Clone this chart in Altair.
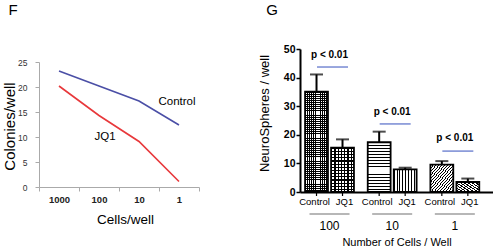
import altair as alt
import pandas as pd

# ---------------- Panel F data ----------------
cells = ["1000", "100", "10", "1"]
control_colonies = [23.2, 20.2, 17.2, 12.4]
jq1_colonies = [20.2, 14.3, 9.1, 1.1]
series_names = ["Control", "JQ1"]
series_colors = ["#4b4fa6", "#e8383b"]
control_label_cell = "1"
control_label_value = 17.0
jq1_label_cell = "100"
jq1_label_value = 10.0

# ---------------- Panel G data ----------------
groups = ["100", "10", "1"]
conditions = ["Control", "JQ1"]
sphere_means = [35.1, 15.5, 17.4, 7.9, 9.6, 3.5]
sphere_err_top = [41.1, 18.4, 21.1, 8.5, 10.8, 4.7]
p_texts = ["p < 0.01", "p < 0.01", "p < 0.01"]
p_text_y = [47.9, 28.0, 18.9]
p_line_y = [43.7, 23.8, 14.3]

SANS = "Liberation Sans"

# shared panel frame
H = 143
F_BOTTOM, F_TOP = 138, 13   # pixel range of panel F's y scale inside the frame

# ================= Panel F =================
W1 = 160
dfF = pd.DataFrame({
    "cells": cells * 2,
    "value": control_colonies + jq1_colonies,
    "series": [series_names[0]] * 4 + [series_names[1]] * 4,
})

xF = alt.X("cells:N", sort=cells,
           scale=alt.Scale(paddingInner=0, paddingOuter=0),
           axis=alt.Axis(title="Cells/well", labelAngle=0, tickBand="extent", offset=F_BOTTOM - H,
                         domainColor="#aaaaaa", tickColor="#aaaaaa", tickSize=4,
                         labelFont=SANS, labelFontSize=9.5, labelFontWeight="bold",
                         labelColor="#222222", labelPadding=3,
                         titleFont=SANS, titleFontSize=13.5, titleFontWeight="normal",
                         titleColor="#000000", titlePadding=9, titleX=86))


def yF(field):
    return alt.Y(field, scale=alt.Scale(domain=[0, 25], range=[F_BOTTOM, F_TOP]),
                 axis=alt.Axis(title="Colonies/well", values=[0, 5, 10, 15, 20, 25], grid=False,
                               domainColor="#aaaaaa", tickColor="#aaaaaa", tickSize=4,
                               labelFont=SANS, labelFontSize=8.5, labelColor="#333333",
                               labelPadding=8,
                               titleFont=SANS, titleFontSize=15, titleFontWeight="normal",
                               titleColor="#000000", titleX=-30, titleY=77,
                               titleBaseline="middle"))


linesF = alt.Chart(dfF).mark_line(strokeWidth=1.6).encode(
    x=xF, y=yF("value:Q"),
    color=alt.Color("series:N", scale=alt.Scale(domain=series_names, range=series_colors), legend=None),
)
ctrl_lab = alt.Chart(pd.DataFrame({"cells": [control_label_cell], "value": [control_label_value],
                                   "t": [series_names[0]]})).mark_text(
    font=SANS, fontSize=11.5, dx=-2, baseline="middle").encode(x=xF, y=yF("value:Q"), text="t:N")
jq1_lab = alt.Chart(pd.DataFrame({"cells": [jq1_label_cell], "value": [jq1_label_value],
                                  "t": [series_names[1]]})).mark_text(
    font=SANS, fontSize=11.5, dx=6, baseline="middle").encode(x=xF, y=yF("value:Q"), text="t:N")
letterF = alt.Chart(pd.DataFrame({"t": ["F"]})).mark_text(
    font=SANS, fontSize=15, baseline="middle", align="center").encode(
    x=alt.value(-26), y=alt.value(-39), text="t:N")

panelF = alt.layer(linesF, ctrl_lab, jq1_lab, letterF).properties(width=W1, height=H)

# ================= Panel G =================
W2 = 193
dfG = pd.DataFrame({
    "group": [g for g in groups for _ in conditions],
    "cond": conditions * 3,
    "mean": sphere_means,
    "err": sphere_err_top,
})
dfGroups = pd.DataFrame({"group": groups, "ptext": p_texts, "ty": p_text_y, "ly": p_line_y})

xG = alt.X("group:N", sort=groups,
           scale=alt.Scale(paddingInner=0.22, paddingOuter=0.15, align=0.27),
           axis=alt.Axis(title="Number of Cells / Well", labelAngle=0, ticks=False, tickSize=0,
                         domainColor="#000000", domainWidth=2,
                         labelFont=SANS, labelFontSize=12, labelColor="#000000", labelPadding=28,
                         titleFont=SANS, titleFontSize=11, titleFontWeight="normal",
                         titleColor="#000000", titlePadding=5))
xoG = alt.XOffset("cond:N", sort=conditions, scale=alt.Scale(paddingInner=0.12, paddingOuter=0))


def yG(field):
    return alt.Y(field, scale=alt.Scale(domain=[0, 50]),
                 axis=alt.Axis(title="NeuroSpheres / well", values=[0, 10, 20, 30, 40, 50], grid=False,
                               domainColor="#000000", domainWidth=2, tickColor="#000000",
                               tickWidth=1.5, tickSize=4,
                               labelFont=SANS, labelFontSize=10.5, labelColor="#000000",
                               labelFontWeight="bold", labelPadding=1,
                               titleFont=SANS, titleFontSize=13, titleFontWeight="normal",
                               titleColor="#000000", titleX=-36, titleY=64,
                               titleBaseline="middle"))


CLEAR = "rgba(0,0,0,0)"


def stripes(n, duty, dark, light, x2, y2):
    stops = []
    for i in range(n):
        a = i / n
        b = (i + duty) / n
        c = (i + 1) / n
        stops += [alt.GradientStop(color=dark, offset=a), alt.GradientStop(color=dark, offset=b),
                  alt.GradientStop(color=light, offset=b), alt.GradientStop(color=light, offset=c)]
    return alt.LinearGradient(gradient="linear", stops=stops, x1=0, y1=0, x2=x2, y2=y2)


patterns = {
    ("100", "Control"): [stripes(48, 0.45, "black", "white", 0, 1),
                         stripes(11, 0.45, "black", CLEAR, 1, 0)],
    ("100", "JQ1"): [stripes(14, 0.4, "black", "white", 0, 1),
                     stripes(7, 0.4, "black", CLEAR, 1, 0)],
    ("10", "Control"): [stripes(17, 0.3, "black", "white", 0, 1)],
    ("10", "JQ1"): [stripes(8, 0.35, "black", "white", 1, 0)],
    ("1", "Control"): [stripes(16, 0.35, "black", "white", 1, 1)],
    ("1", "JQ1"): [stripes(12, 0.45, "black", "white", 1, 1)],
}

layersG = []
for (g, c), fills in patterns.items():
    for f in fills:
        layersG.append(
            alt.Chart(dfG).transform_filter(
                f"datum.group == '{g}' && datum.cond == '{c}'"
            ).mark_bar(fill=f, strokeWidth=0).encode(x=xG, xOffset=xoG, y=yG("mean:Q"))
        )

outline = alt.Chart(dfG).mark_bar(fillOpacity=0, stroke="black", strokeWidth=1.8).encode(
    x=xG, xOffset=xoG, y=yG("mean:Q"))
err_rule = alt.Chart(dfG).mark_rule(color="black", strokeWidth=2).encode(
    x=xG, xOffset=xoG, y=yG("mean:Q"), y2="err:Q")
err_cap = alt.Chart(dfG).mark_tick(orient="horizontal", size=13, thickness=2, color="black").encode(
    x=xG, xOffset=xoG, y=yG("err:Q"))
bar_ticks = alt.Chart(dfG).mark_rule(color="black", strokeWidth=1.2).encode(
    x=xG, xOffset=xoG, y=alt.value(H), y2=alt.value(H + 4))
ctrl_labels = alt.Chart(dfG).transform_filter("datum.cond == 'Control'").mark_text(
    font=SANS, fontSize=9.5, dx=-2, baseline="middle").encode(
    x=xG, xOffset=xoG, y=alt.value(H + 10), text="cond:N")
jq1_labels = alt.Chart(dfG).transform_filter("datum.cond == 'JQ1'").mark_text(
    font=SANS, fontSize=9.5, dx=2, baseline="middle").encode(
    x=xG, xOffset=xoG, y=alt.value(H + 10), text="cond:N")
group_lines = alt.Chart(dfGroups).mark_tick(orient="horizontal", size=40, thickness=1, color="#333333").encode(
    x=xG, y=alt.value(H + 22))
p_lab = alt.Chart(dfGroups).mark_text(font=SANS, fontSize=10, fontWeight="bold", baseline="middle").encode(
    x=xG, y=yG("ty:Q"), text="ptext:N")
p_line = alt.Chart(dfGroups).mark_tick(orient="horizontal", size=31, thickness=1.6, color="#4a62c4",
                                        xOffset=3).encode(x=xG, y=yG("ly:Q"))
letterG = alt.Chart(pd.DataFrame({"t": ["G"]})).mark_text(
    font=SANS, fontSize=15, baseline="middle", align="center").encode(
    x=alt.value(-28), y=alt.value(-39), text="t:N")

panelG = alt.layer(*layersG, outline, err_rule, err_cap, bar_ticks, ctrl_labels, jq1_labels,
                   group_lines, p_lab, p_line, letterG).properties(width=W2, height=H)

chart = alt.hconcat(panelF, panelG, spacing=57).configure_view(stroke=None).properties(
    padding={"left": 2, "top": 3, "right": 0, "bottom": 0}, background="white")

chart.save("out.html", embed_options={"renderer": "svg", "actions": False})
